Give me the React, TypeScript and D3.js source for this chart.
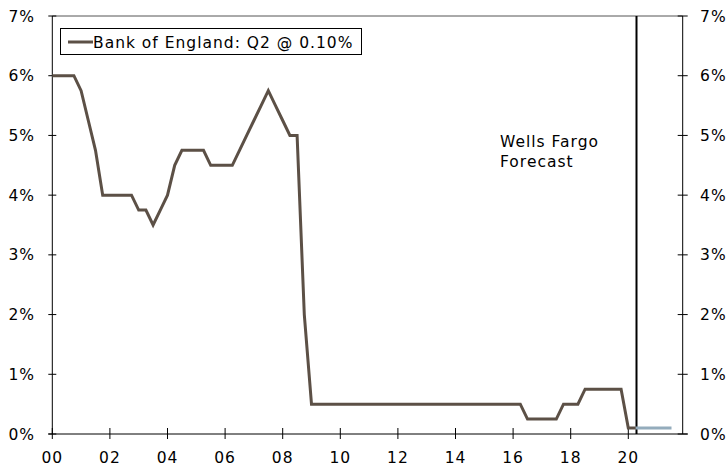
import React from "react";
import * as d3 from "d3";

// Quarterly Bank Rate, 2000Q1 .. 2020Q2 (%)
const actualStart = 2000;
const actualValues: number[] = [
  6, 6, 6, 6,
  5.75, 5.25, 4.75, 4.0,
  4, 4, 4, 4,
  3.75, 3.75, 3.5, 3.75,
  4.0, 4.5, 4.75, 4.75,
  4.75, 4.75, 4.5, 4.5,
  4.5, 4.5, 4.75, 5.0,
  5.25, 5.5, 5.75, 5.5,
  5.25, 5.0, 5.0, 2.0,
  0.5, 0.5, 0.5, 0.5,
  0.5, 0.5, 0.5, 0.5,
  0.5, 0.5, 0.5, 0.5,
  0.5, 0.5, 0.5, 0.5,
  0.5, 0.5, 0.5, 0.5,
  0.5, 0.5, 0.5, 0.5,
  0.5, 0.5, 0.5, 0.5,
  0.5, 0.5, 0.25, 0.25,
  0.25, 0.25, 0.25, 0.5,
  0.5, 0.5, 0.75, 0.75,
  0.75, 0.75, 0.75, 0.75,
  0.1, 0.1,
];
// Forecast 2020Q2 .. 2021Q3
const forecastStart = 2020.25;
const forecastValues: number[] = [0.1, 0.1, 0.1, 0.1, 0.1, 0.1];

const xTickYears = [2000, 2002, 2004, 2006, 2008, 2010, 2012, 2014, 2016, 2018, 2020];
const yTicks = [0, 1, 2, 3, 4, 5, 6, 7];
const legendLabel = "Bank of England: Q2 @ 0.10%";
const forecastLabel = ["Wells Fargo", "Forecast"];
const forecastLineYear = 2020.25;

const W = 728;
const H = 469;
const FONT = "Verdana, 'DejaVu Sans', sans-serif";
const FS = 15.5;
const LS = 1.0;
const DARK = "#5c5046";
const BLUE = "#94acbc";

export default function App() {
  const left = 52.3;
  const right = 682.7;
  const top = 16;
  const bottom = 434;
  const x = d3
    .scaleLinear()
    .domain([2000, 2000 + (right - left) / 28.8])
    .range([left, right]);
  const y = d3.scaleLinear().domain([0, 7]).range([bottom, top]);

  const actual = actualValues.map((v, i) => ({ t: actualStart + i * 0.25, v }));
  const forecast = forecastValues.map((v, i) => ({ t: forecastStart + i * 0.25, v }));
  const line = d3
    .line<{ t: number; v: number }>()
    .x((d) => x(d.t))
    .y((d) => y(d.v));

  return (
    <svg
      width={W}
      height={H}
      style={{ position: "absolute", left: 0, top: 0, background: "#fff" }}
      fontFamily={FONT}
      fontSize={FS}
      letterSpacing={LS}
    >
      {/* frame: top border */}
      <line x1={left} x2={right} y1={top} y2={top} stroke="#555" strokeWidth={1} />
      {/* left axis */}
      <line x1={left} x2={left} y1={top} y2={bottom} stroke="#000" strokeWidth={1} />
      {/* right axis */}
      <line x1={right} x2={right} y1={top} y2={bottom} stroke="#000" strokeWidth={1} />
      {/* x axis */}
      <line x1={left - 4} x2={right + 5} y1={bottom} y2={bottom} stroke="#000" strokeWidth={1} />

      {yTicks.map((t) => (
        <g key={"y" + t}>
          <line x1={left - 4} x2={left + 4} y1={y(t)} y2={y(t)} stroke="#000" />
          <line x1={right - 5} x2={right + 5} y1={y(t)} y2={y(t)} stroke="#000" />
          <text x={35} y={y(t)} dy="0.36em" textAnchor="end" fill="#000">
            {t}%
          </text>
          <text x={700} y={y(t)} dy="0.36em" textAnchor="start" fill="#000">
            {t}%
          </text>
        </g>
      ))}

      {xTickYears.map((yr) => (
        <g key={"x" + yr}>
          <line x1={x(yr)} x2={x(yr)} y1={bottom - 6} y2={bottom + 5} stroke="#000" />
          <text x={x(yr)} y={463} textAnchor="middle" fill="#000">
            {String(yr % 100).padStart(2, "0")}
          </text>
        </g>
      ))}

      {/* forecast divider */}
      <line
        x1={x(forecastLineYear) + 1}
        x2={x(forecastLineYear) + 1}
        y1={top}
        y2={bottom}
        stroke="#000"
        strokeWidth={2}
      />

      <path d={line(forecast) || ""} fill="none" stroke={BLUE} strokeWidth={3} />
      <path d={line(actual) || ""} fill="none" stroke={DARK} strokeWidth={3} strokeLinejoin="miter" />

      {/* forecast label */}
      <text x={500} y={147} fill="#000">
        {forecastLabel[0]}
      </text>
      <text x={500} y={167} fill="#000">
        {forecastLabel[1]}
      </text>

      {/* legend */}
      <rect x={60.5} y={28.5} width={301} height={26} fill="#fff" stroke="#000" strokeWidth={1} />
      <line x1={68} x2={93} y1={42} y2={42} stroke={DARK} strokeWidth={3} />
      <text x={93} y={48} fill="#000">
        {legendLabel}
      </text>
    </svg>
  );
}
